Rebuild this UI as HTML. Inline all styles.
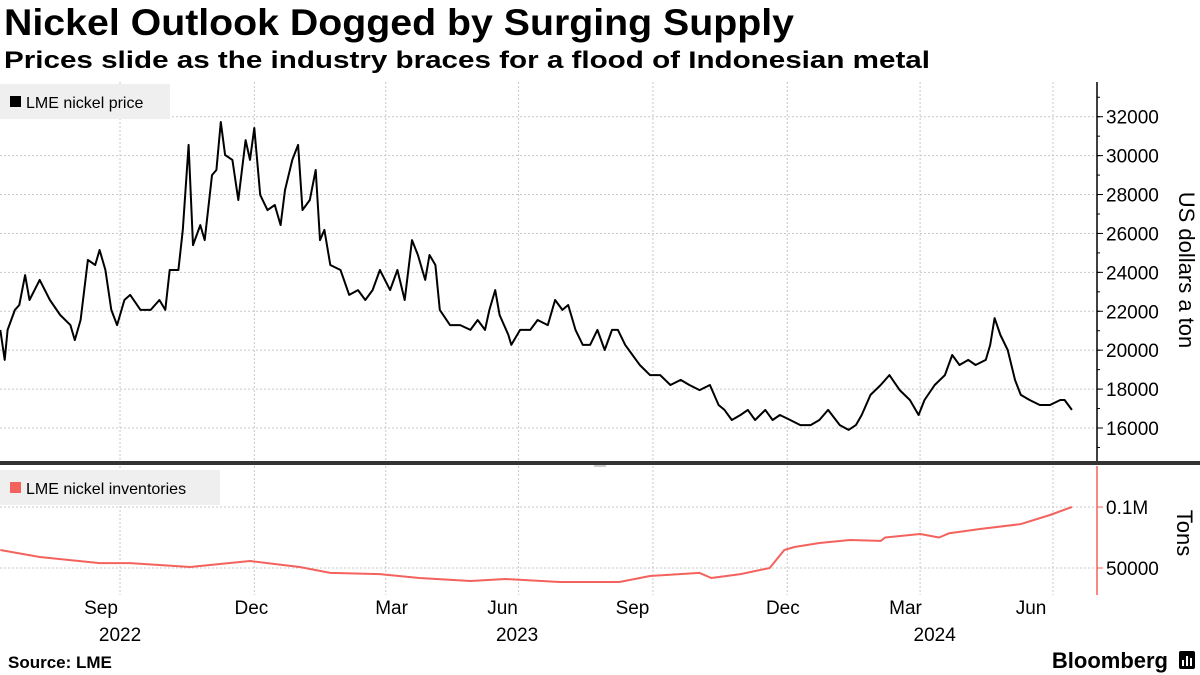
<!DOCTYPE html>
<html><head><meta charset="utf-8"><style>
body{margin:0;background:#fff;width:1200px;height:675px;overflow:hidden;font-family:"Liberation Sans",sans-serif}
#c{position:absolute;left:0;top:0}
</style></head><body>
<svg id="c" width="1200" height="675" xmlns="http://www.w3.org/2000/svg">
<text x="4" y="35" font-size="37" font-weight="bold" fill="#000" textLength="790" lengthAdjust="spacingAndGlyphs">Nickel Outlook Dogged by Surging Supply</text>
<text x="4" y="68" font-size="24" font-weight="bold" fill="#000" textLength="926" lengthAdjust="spacingAndGlyphs">Prices slide as the industry braces for a flood of Indonesian metal</text>
<g id="grid"></g>
<g id="marks"></g>
<rect x="0" y="84" width="170" height="35" fill="#efefef"/>
<rect x="10" y="96" width="11" height="11" fill="#000"/>
<text x="26" y="108" font-size="16" fill="#000">LME nickel price</text>
<rect x="0" y="470" width="220" height="35" fill="#efefef"/>
<rect x="10" y="482" width="11" height="11" fill="#f4625e"/>
<text x="26" y="494" font-size="16" fill="#000">LME nickel inventories</text>
<rect x="0" y="461" width="1200" height="4" fill="#333"/>
<line x1="594" y1="466" x2="606" y2="466" stroke="#999"/>
<text x="1185" y="270" font-size="22" fill="#000" text-anchor="middle" transform="rotate(90 1185 270)" dominant-baseline="middle">US dollars a ton</text>
<text x="1183" y="533" font-size="22" fill="#000" text-anchor="middle" transform="rotate(90 1183 533)" dominant-baseline="middle">Tons</text>
<text x="8" y="668" font-size="17" font-weight="bold" fill="#000">Source: LME</text>
<text x="1168" y="668" font-size="22" font-weight="bold" fill="#000" text-anchor="end">Bloomberg</text>
<g><rect x="1179" y="651" width="16" height="18" rx="2" fill="#000"/><rect x="1182" y="660" width="2" height="6" fill="#fff"/><rect x="1186" y="656" width="2" height="10" fill="#fff"/><rect x="1190" y="658" width="2" height="8" fill="#fff"/></g>
</svg>
<script>
// days since 2022-07-01
const priceDays=[10,13,15,20,23,27,30,37,44,51,58,61,65,70,75,78,82,86,90,95,99,106,113,119,123,126,132,135,139,142,147,150,155,158,161,164,169,173,178,181,184,188,193,198,202,205,210,214,217,222,226,229,232,236,243,249,255,260,265,270,277,282,287,292,296,301,304,308,311,318,325,332,337,342,345,349,352,358,360,366,373,378,385,390,395,399,404,409,414,419,424,429,433,438,443,448,455,462,469,476,482,489,496,502,506,511,517,522,527,534,539,544,551,558,565,571,577,585,591,596,600,606,613,619,626,633,639,643,650,657,662,667,673,678,685,688,691,695,700,705,709,715,722,729,736,739,744];
const priceValues=[21040,19500,21040,22070,22320,23860,22580,23610,22580,21810,21290,20520,21550,24640,24380,25150,24120,22070,21290,22580,22840,22070,22070,22580,22070,24120,24120,26180,30550,25400,26430,25660,29000,29260,31730,30030,29780,27720,30800,29780,31420,27980,27200,27460,26430,28230,29780,30550,27200,27720,29260,25660,26180,24380,24120,22840,23090,22580,23090,24120,23090,24120,22580,25660,24890,23610,24890,24380,22070,21290,21290,21040,21550,21040,22070,23090,21810,20780,20270,21040,21040,21550,21290,22580,22070,22320,21040,20270,20270,21040,20010,21040,21040,20270,19750,19240,18720,18720,18210,18470,18210,17950,18210,17180,16930,16410,16670,16930,16410,16930,16410,16670,16410,16150,16150,16410,16930,16150,15900,16150,16670,17700,18210,18720,17950,17440,16670,17440,18210,18720,19750,19240,19500,19240,19500,20270,21650,20780,20010,18470,17700,17440,17180,17180,17440,17440,16930];
const invDays=[10,37,78,99,140,181,215,236,270,297,332,356,393,434,455,489,497,517,537,547,554,571,592,613,616,640,653,660,681,709,729,744];
const invValues=[64800,59000,54000,54000,50800,55700,50800,46000,45000,41800,39300,41000,38500,38500,43400,46000,41800,45000,50000,64800,67200,70500,73000,72200,75000,77900,75000,78500,82000,86000,93500,100000];
const priceTicks=[16000,18000,20000,22000,24000,26000,28000,30000,32000];
const invTicks=[50000,100000];
const invTickLabels=["50000","0.1M"];
const gridDays=[92,184,274,365,457,549,640,731];
const monthLabels=["Sep","Dec","Mar","Jun","Sep","Dec","Mar","Jun"];
const monthDays=[79,182,278,354,443,546,630,716];
const yearLabels=["2022","2023","2024"];
const yearDays=[92,364,650];

const NS="http://www.w3.org/2000/svg";
const xS=d=>d*1.46-14.3;
const yP=v=>428-(v-16000)/51.4;
const yI=v=>568-(v-50000)/820;
const AX=1097;
const grid=document.getElementById('grid'),marks=document.getElementById('marks');
function mk(tag,attrs,parent){const e=document.createElementNS(NS,tag);for(const k in attrs)e.setAttribute(k,attrs[k]);parent.appendChild(e);return e;}
gridDays.forEach(d=>{const l=mk('line',{x1:xS(d),x2:xS(d),y1:82,y2:595,stroke:'#c8c8c8','stroke-dasharray':'2,2'},grid);

});
priceTicks.forEach(v=>{const y=yP(v);
const l=mk('line',{x1:0,x2:AX,y1:y,y2:y,stroke:'#c8c8c8','stroke-dasharray':'2,2'},grid);


const t=mk('line',{x1:AX,x2:AX+6,y1:y,y2:y,stroke:'#000'},grid);


const tx=mk('text',{x:AX+9,y:y+7,'font-size':19,fill:'#000'},grid);tx.textContent=String(v);

});
for(let v=15000;v<=33000;v+=1000){const y=yP(v);if(y<84||y>460)continue;const t=mk('line',{x1:AX,x2:AX+3,y1:y,y2:y,stroke:'#000'},grid);

}
invTicks.forEach((v,i)=>{const y=yI(v);
const l=mk('line',{x1:0,x2:AX,y1:y,y2:y,stroke:'#c8c8c8','stroke-dasharray':'2,2'},grid);


const t=mk('line',{x1:AX,x2:AX+6,y1:y,y2:y,stroke:'#f4625e'},grid);


const tx=mk('text',{x:AX+9,y:y+7,'font-size':19,fill:'#000'},grid);tx.textContent=invTickLabels[i];

});
const a1=mk('line',{x1:AX,x2:AX,y1:82,y2:462,stroke:'#000','stroke-width':1.5},grid);


const a2=mk('line',{x1:AX,x2:AX,y1:466,y2:595,stroke:'#f4625e','stroke-width':1.5},grid);


monthLabels.forEach((m,i)=>{const t=mk('text',{x:xS(monthDays[i]),y:614,'font-size':19,fill:'#000','text-anchor':'middle'},grid);t.textContent=m;

});
yearLabels.forEach((m,i)=>{const t=mk('text',{x:xS(yearDays[i]),y:641,'font-size':19,fill:'#000','text-anchor':'middle'},grid);t.textContent=m;

});
const pp=mk('path',{d:priceDays.map((d,i)=>(i?'L':'M')+xS(d).toFixed(1)+','+yP(priceValues[i]).toFixed(1)).join(''),fill:'none',stroke:'#000','stroke-width':2,'stroke-linejoin':'round'},marks);


const ip=mk('path',{d:invDays.map((d,i)=>(i?'L':'M')+xS(d).toFixed(1)+','+yI(invValues[i]).toFixed(1)).join(''),fill:'none',stroke:'#f4625e','stroke-width':2,'stroke-linejoin':'round'},marks);


</script>
</body></html>
